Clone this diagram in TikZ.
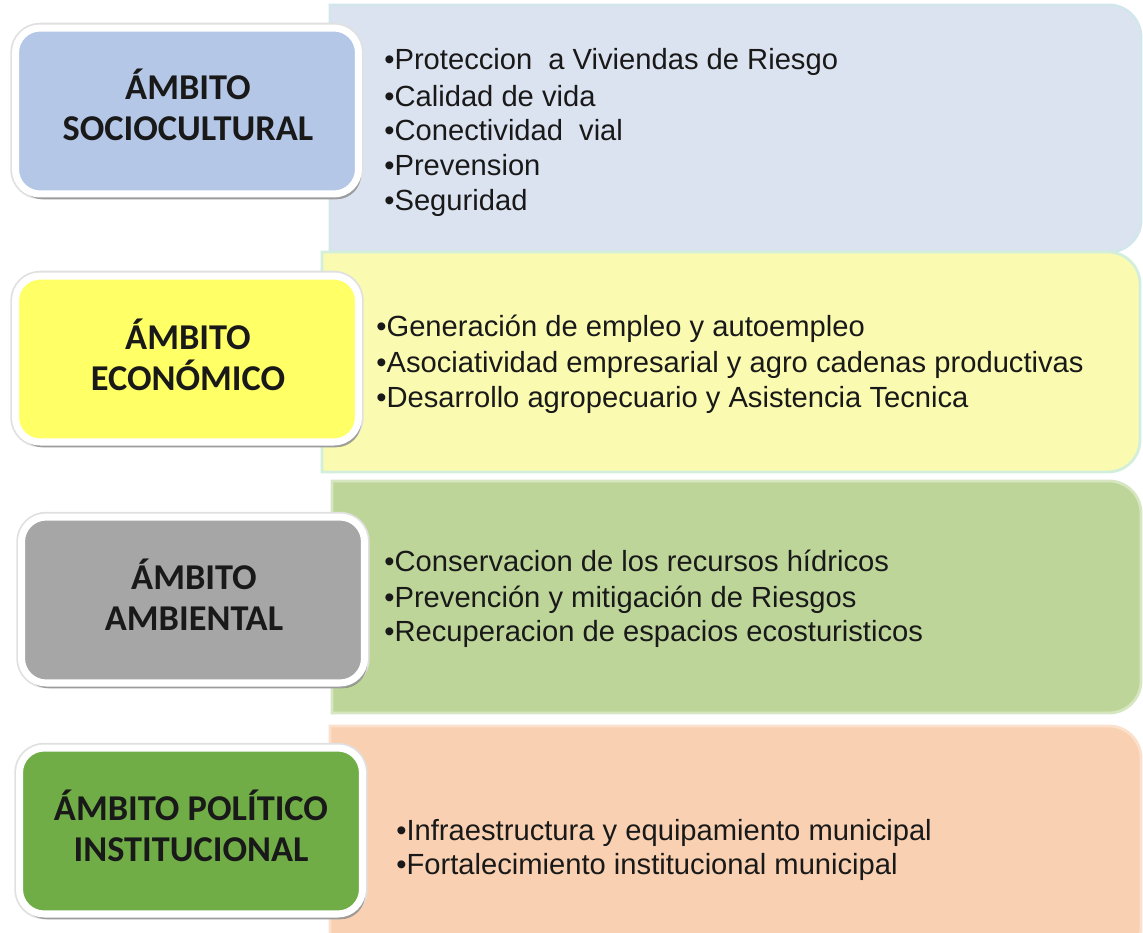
\documentclass[tikz,border=0pt]{standalone}
\usepackage{fontspec}
\setmainfont{Liberation Sans}
\newfontfamily\lblfont{Carlito}
\usetikzlibrary{shadows}
\definecolor{lA}{HTML}{B4C7E7}
\definecolor{lB}{HTML}{FFFF66}
\definecolor{lC}{HTML}{A6A6A6}
\definecolor{lD}{HTML}{70AD47}
\definecolor{rA}{HTML}{DCE3F0}
\definecolor{rAb}{HTML}{D2E6EC}
\definecolor{rB}{HTML}{FAFBB1}
\definecolor{rBb}{HTML}{D3EEDC}
\definecolor{rC}{HTML}{BED59A}
\definecolor{rCb}{HTML}{D5E6C0}
\definecolor{rD}{HTML}{F9D1B2}
\definecolor{rDb}{HTML}{FBE0CC}
\newcommand\rbox[6]{\filldraw[fill=#5,draw=#6,line width=1.6pt] (#1,#2) -- ({#3-32},#2) arc[start angle=-90,end angle=0,radius=32] -- (#3,{#4-32}) arc[start angle=0,end angle=90,radius=32] -- (#1,#4) -- cycle;}
\begin{document}
\begin{tikzpicture}[x=0.02cm,y=-0.02cm,
  lbox/.style={rounded corners=14pt, draw=white, line width=4pt,
    minimum width=6.86cm, minimum height=3.32cm, inner sep=0pt,
    preaction={draw=black!12, line width=6pt},
    drop shadow={shadow xshift=1.5pt, shadow yshift=-3pt, opacity=0.3, fill=black}},
  ltext/.style={align=center, inner sep=0pt,
    font=\lblfont\bfseries\fontsize{20.7}{23.2}\selectfont, text=black!90},
  item/.style={anchor=base west, inner sep=0pt, font=\fontsize{16.6}{19.8}\selectfont, text=black!90}]
\useasboundingbox (0,0) rectangle (1143,933);
\clip (0,0) rectangle (1143,933);
% right panels
\rbox{330}{5}{1141}{252}{rA}{rAb}
\rbox{322}{252}{1140}{472}{rB}{rBb}
\rbox{332}{481}{1141}{713}{rC}{rCb}
\rbox{330}{726}{1141}{960}{rD}{rDb}
% left labels
\node[lbox, fill=lA] (l1) at (187,111) {};
\node[lbox, fill=lB] (l2) at (187,359) {};
\node[lbox, fill=lC] (l3) at (193,600) {};
\node[lbox, fill=lD] (l4) at (191,831) {};
\node[ltext] (t1) at (188,105) {ÁMBITO\\SOCIOCULTURAL};
\node[ltext] (t2) at (188,355) {ÁMBITO\\ECONÓMICO};
\node[ltext] (t3) at (194,595) {ÁMBITO\\AMBIENTAL};
\node[ltext] (t4) at (191,826) {ÁMBITO POLÍTICO\\INSTITUCIONAL};
% items
\node[item] (a1) at (384,70) {•Proteccion\hspace{0.55em}a Viviendas de Riesgo};
\node[item] (a2) at (384,106) {•Calidad de vida};
\node[item] (a3) at (384,140) {•Conectividad\hspace{0.55em}vial};
\node[item] (a4) at (384,175) {•Prevension};
\node[item] (a5) at (384,210) {•Seguridad};
\node[item] (b1) at (376,336) {•Generación de empleo y autoempleo};
\node[item] (b2) at (376,372) {•Asociatividad empresarial y agro cadenas productivas};
\node[item] (b3) at (376,407) {•Desarrollo agropecuario y Asistencia Tecnica};
\node[item] (c1) at (384,571) {•Conservacion de los recursos hídricos};
\node[item] (c2) at (384,607) {•Prevención y mitigación de Riesgos};
\node[item] (c3) at (384,641) {•Recuperacion de espacios ecosturisticos};
\node[item] (d1) at (396,840) {•Infraestructura y equipamiento municipal};
\node[item] (d2) at (396,874) {•Fortalecimiento institucional municipal};
\end{tikzpicture}
\end{document}
